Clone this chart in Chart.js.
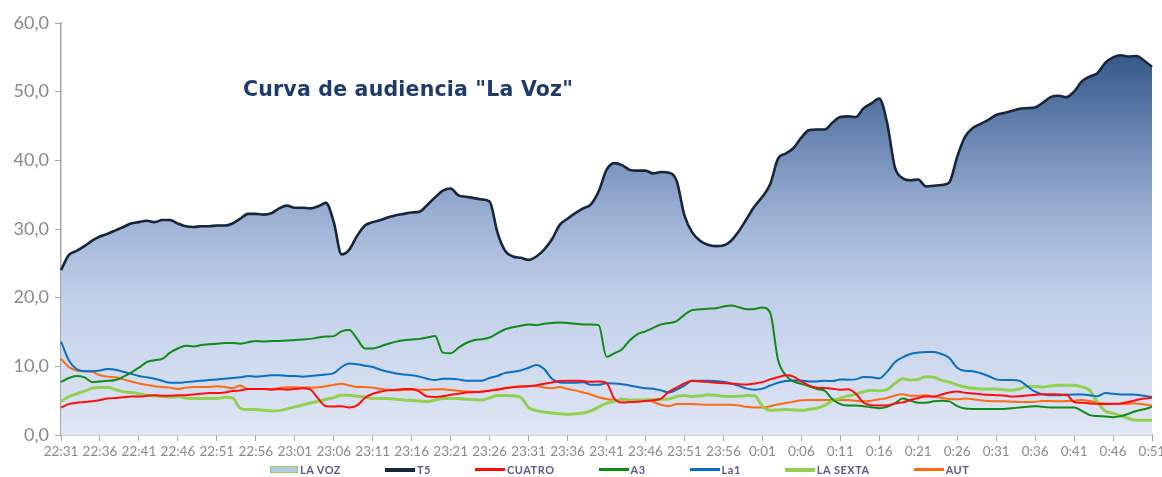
<!DOCTYPE html>
<html>
<head>
<meta charset="utf-8">
<script src="https://cdn.jsdelivr.net/npm/chart.js@4.4.0/dist/chart.umd.min.js"></script>
<style>
    html, body { margin: 0; padding: 0; background: #fff; }
    #wrap { position: relative; width: 1162px; height: 477px; }
    #title {
        position: absolute; left: 243px; top: 77px;
        font: bold 20.5px "DejaVu Sans", sans-serif; color: #1f3b6d; letter-spacing: 0.2px;
    }
    #legend {
        position: absolute; left: 270px; top: 463px;
        display: flex; gap: 44px; align-items: center;
        font: bold 11px Lato, sans-serif; color: #5c5a8e; letter-spacing: 0.5px;
    }
    #legend .item { display: flex; align-items: center; }
    #legend .sw { display: inline-block; width: 30px; height: 3px; margin-right: 2px; }
    #legend .box { width: 26px; height: 5px; border: 1.5px solid #92d050; background: #b8c7e3; }
</style>
</head>
<body>
<div id="wrap">
    <canvas id="audiencia-canvas" width="1162" height="477"></canvas>
    <div id="title">Curva de audiencia "La Voz"</div>
    <div id="legend"></div>
</div>
<script>
// minuto a minuto, 22:31 -> 0:51
var tickLabels = ['22:31', '22:36', '22:41', '22:46', '22:51', '22:56', '23:01', '23:06', '23:11', '23:16',
    '23:21', '23:26', '23:31', '23:36', '23:41', '23:46', '23:51', '23:56', '0:01', '0:06',
    '0:11', '0:16', '0:21', '0:26', '0:31', '0:36', '0:41', '0:46', '0:51'];

var categories = [];
for (var m = 0; m <= 140; m++) {
    var t = 22 * 60 + 31 + m;
    var h = Math.floor(t / 60) % 24, mm = t % 60;
    categories.push(h + ':' + (mm < 10 ? '0' : '') + mm);
}

var t5 = [
    24.0, 26.2, 26.8, 27.5, 28.3, 28.9, 29.3, 29.8, 30.3, 30.8,
    31.0, 31.2, 31.0, 31.3, 31.3, 30.8, 30.4, 30.3, 30.4, 30.4,
    30.5, 30.5, 30.8, 31.5, 32.2, 32.2, 32.1, 32.3, 33.0, 33.4,
    33.1, 33.1, 33.0, 33.3, 33.8, 31.0, 26.3, 27.0, 29.0, 30.5,
    31.0, 31.3, 31.7, 32.0, 32.2, 32.4, 32.5, 33.5, 34.6, 35.6,
    35.9, 34.9, 34.7, 34.5, 34.3, 34.0, 29.5, 26.8, 26.0, 25.8,
    25.5, 26.0, 27.0, 28.5, 30.6, 31.5, 32.3, 33.0, 33.6, 35.5,
    38.6, 39.6, 39.3, 38.6, 38.5, 38.5, 38.1, 38.3, 38.2, 37.0,
    32.0, 29.5, 28.3, 27.7, 27.5, 27.6, 28.3, 29.7, 31.5, 33.3,
    34.7, 36.5, 40.2, 41.0, 41.8, 43.3, 44.4, 44.5, 44.5, 45.5,
    46.3, 46.4, 46.3, 47.6, 48.3, 49.0, 45.5, 39.0, 37.4, 37.1,
    37.2, 36.2, 36.3, 36.4, 36.8, 40.5, 43.4, 44.7, 45.3, 45.9,
    46.6, 46.9, 47.2, 47.5, 47.6, 47.7, 48.4, 49.2, 49.4, 49.2,
    50.0, 51.5, 52.2, 52.7, 54.2, 55.0, 55.3, 55.1, 55.2, 54.5,
    53.6
];

var laVoz = t5;

var cuatro = [
    4.0, 4.5, 4.7, 4.8, 4.9, 5.1, 5.3, 5.4, 5.5, 5.6,
    5.6, 5.7, 5.8, 5.7, 5.7, 5.8, 5.8, 5.9, 6.0, 6.1,
    6.1, 6.2, 6.4, 6.5, 6.7, 6.7, 6.7, 6.6, 6.7, 6.6,
    6.7, 6.8, 6.6, 5.3, 4.2, 4.15, 4.2, 4.0, 4.3, 5.4,
    6.0, 6.3, 6.5, 6.6, 6.7, 6.7, 6.3, 5.6, 5.55, 5.65,
    5.85, 6.0, 6.2, 6.25, 6.3, 6.45, 6.6, 6.8, 6.95, 7.05,
    7.1, 7.25, 7.45, 7.65, 7.85, 7.9, 7.9, 7.85, 7.75, 7.8,
    7.6, 5.3, 4.75, 4.8, 4.85, 4.95, 5.05, 5.3, 6.3, 6.9,
    7.5, 7.9, 7.8, 7.7, 7.6, 7.55, 7.5, 7.4, 7.35, 7.5,
    7.7, 8.1, 8.4, 8.7, 8.5, 7.8, 7.2, 6.9, 6.85, 6.75,
    6.6, 6.65, 6.0, 4.7, 4.35, 4.3, 4.3, 4.6, 4.75, 5.1,
    5.4, 5.6, 5.6, 5.9, 6.2, 6.35, 6.15, 6.05, 5.95, 5.85,
    5.8, 5.75, 5.6, 5.65, 5.75, 5.85, 5.95, 5.95, 5.9, 5.85,
    4.8, 4.7, 4.6, 4.55, 4.5, 4.55, 4.6, 4.8, 5.1, 5.3,
    5.45
];

var a3 = [
    7.7, 8.3, 8.6, 8.4, 7.7, 7.8, 7.9, 8.0, 8.5, 9.1,
    9.8, 10.6, 10.9, 11.1, 12.0, 12.6, 13.0, 12.9, 13.1, 13.2,
    13.3, 13.4, 13.4, 13.3, 13.5, 13.7, 13.6, 13.7, 13.7, 13.75,
    13.85, 13.9, 14.0, 14.2, 14.35, 14.4, 15.1, 15.3, 14.0, 12.6,
    12.6, 12.9, 13.3, 13.6, 13.8, 13.9, 14.0, 14.2, 14.4, 12.0,
    11.9, 12.7, 13.4, 13.8, 13.95, 14.2, 14.8, 15.4, 15.7, 15.9,
    16.1, 16.0, 16.2, 16.3, 16.4, 16.3, 16.2, 16.1, 16.1, 16.0,
    11.4, 11.9, 12.5, 13.8, 14.7, 15.1, 15.6, 16.1, 16.3, 16.6,
    17.5, 18.2, 18.3, 18.4, 18.45, 18.7, 18.85, 18.6, 18.3, 18.35,
    18.55, 17.8, 11.0, 8.7, 7.8, 7.45, 7.1, 6.7, 6.45, 5.2,
    4.5, 4.3, 4.3, 4.2, 4.05, 3.9, 4.1, 4.6, 5.3, 5.0,
    4.7, 4.7, 4.9, 5.0, 4.9, 4.2, 3.85, 3.8, 3.8, 3.8,
    3.8, 3.8, 3.9, 4.0, 4.1, 4.2, 4.1, 4.0, 4.0, 4.0,
    4.0, 3.5, 2.9, 2.75, 2.7, 2.6, 2.75, 3.1, 3.5, 3.75,
    4.1
];

var la1 = [
    13.6, 10.9, 9.6, 9.3, 9.3, 9.4, 9.6, 9.5, 9.2, 8.9,
    8.6, 8.4, 8.2, 7.9, 7.6, 7.6, 7.7, 7.8, 7.9, 8.0,
    8.1, 8.2, 8.3, 8.4, 8.6, 8.5, 8.6, 8.7, 8.7, 8.6,
    8.6, 8.5, 8.6, 8.7, 8.8, 9.0, 9.9, 10.4, 10.3, 10.1,
    9.9, 9.5, 9.2, 8.95, 8.8, 8.7, 8.5, 8.2, 8.0, 8.2,
    8.2, 8.1, 7.9, 7.9, 7.9, 8.3, 8.6, 9.05, 9.2, 9.4,
    9.8, 10.2, 9.6, 8.2, 7.65, 7.6, 7.6, 7.7, 7.3, 7.3,
    7.55, 7.5, 7.4, 7.2, 7.0, 6.8, 6.75, 6.5, 6.2, 6.6,
    7.2, 7.9, 7.9, 7.9, 7.85, 7.75, 7.5, 7.15, 6.75, 6.6,
    6.75, 7.2, 7.6, 7.85, 7.95, 7.95, 7.8, 7.8, 7.9, 7.85,
    8.1, 8.05, 8.1, 8.45, 8.4, 8.25, 9.2, 10.6, 11.3, 11.8,
    12.0, 12.1, 12.1, 11.8, 11.2, 9.8, 9.35, 9.3, 9.0, 8.6,
    8.1, 8.0, 8.0, 7.9, 7.1, 6.3, 5.9, 5.8, 5.8, 5.85,
    5.9, 5.9, 5.8, 5.65, 6.1, 6.0, 5.9, 5.9, 5.85, 5.7,
    5.55
];

var laSexta = [
    4.9, 5.6, 6.0, 6.4, 6.8, 6.9, 6.9, 6.6, 6.3, 6.2,
    6.0, 5.8, 5.7, 5.6, 5.5, 5.6, 5.4, 5.3, 5.3, 5.3,
    5.3, 5.5, 5.4, 3.9, 3.7, 3.7, 3.6, 3.5, 3.55, 3.8,
    4.1, 4.35, 4.65, 4.9, 5.2, 5.45, 5.8, 5.8, 5.65, 5.55,
    5.3, 5.3, 5.3, 5.2, 5.1, 5.05, 4.95, 4.85, 5.1, 5.3,
    5.3, 5.3, 5.2, 5.15, 5.1, 5.4, 5.75, 5.75, 5.7, 5.5,
    4.0, 3.55, 3.35, 3.2, 3.1, 3.0, 3.1, 3.2, 3.5, 4.1,
    4.6, 4.9, 5.2, 5.1, 5.05, 5.1, 5.15, 5.2, 5.25, 5.6,
    5.75, 5.6, 5.7, 5.85, 5.8, 5.65, 5.6, 5.65, 5.75, 5.7,
    4.2, 3.6, 3.65, 3.7, 3.65, 3.6, 3.75, 3.9, 4.3, 5.0,
    5.4, 5.7, 5.95, 6.3, 6.5, 6.45, 6.6, 7.5, 8.2, 8.0,
    8.1, 8.5, 8.4, 7.95, 7.7, 7.3, 7.0, 6.8, 6.7, 6.7,
    6.7, 6.6, 6.5, 6.7, 7.1, 7.05, 7.0, 7.15, 7.25, 7.25,
    7.25, 7.0, 6.5, 4.8, 3.5, 3.15, 2.8, 2.4, 2.15, 2.15,
    2.15
];

var aut = [
    11.1, 9.9, 9.4, 9.3, 9.2, 8.7, 8.5, 8.4, 8.1, 7.8,
    7.5, 7.3, 7.1, 7.0, 6.9, 6.7, 6.9, 7.0, 7.0, 7.0,
    7.1, 7.0, 6.8, 7.2, 6.7, 6.7, 6.7, 6.7, 6.85, 6.95,
    6.95, 6.9, 6.9, 6.95, 7.1, 7.3, 7.45, 7.2, 7.0, 7.0,
    6.9, 6.7, 6.6, 6.5, 6.55, 6.6, 6.6, 6.6, 6.65, 6.65,
    6.55, 6.45, 6.35, 6.3, 6.35, 6.5, 6.65, 6.85, 7.0, 7.05,
    7.1, 7.15, 6.9, 6.8, 7.0, 6.7, 6.5, 6.2, 5.9, 5.5,
    5.25, 5.1, 5.1, 5.1, 5.15, 5.1, 4.8, 4.4, 4.2, 4.5,
    4.5, 4.5, 4.45, 4.4, 4.4, 4.4, 4.4, 4.3, 4.1, 4.0,
    4.0, 4.2, 4.45, 4.65, 4.85, 5.05, 5.1, 5.1, 5.1, 5.1,
    5.1, 5.1, 5.0, 4.9, 5.0, 5.2, 5.4, 5.75, 5.95, 5.7,
    5.7, 5.8, 5.55, 5.4, 5.25, 5.2, 5.3, 5.2, 5.05, 4.95,
    4.9, 4.9, 4.85, 4.8, 4.8, 4.85, 4.95, 4.95, 4.9, 4.95,
    5.0, 5.1, 4.95, 4.75, 4.6, 4.55, 4.5, 4.55, 4.6, 4.45,
    4.3
];

var axisColor = '#a6a6a6';
var tickColor = '#8a8a8a';

function laVozGradient(context) {
    var area = context.chart.chartArea;
    if (!area) return '#b8c7e3';
    var g = context.chart.ctx.createLinearGradient(0, area.top, 0, area.bottom);
    g.addColorStop(0, '#2a4b7c');
    g.addColorStop(0.083, '#365a8c');
    g.addColorStop(0.333, '#7a93bd');
    g.addColorStop(0.5, '#a3b6d8');
    g.addColorStop(0.667, '#c1cfe9');
    g.addColorStop(1, '#dfe6f4');
    return g;
}

function serie(label, data, color, width) {
    return {
        label: label, data: data, borderColor: color, backgroundColor: color,
        borderWidth: width, pointRadius: 0, fill: false,
        cubicInterpolationMode: 'monotone', order: 0
    };
}

var datasets = [
    {
        label: 'LA VOZ', data: laVoz, fill: 'origin',
        backgroundColor: laVozGradient, borderColor: '#92d050', borderWidth: 1.5,
        pointRadius: 0, cubicInterpolationMode: 'monotone', order: 1
    },
    serie('T5', t5, '#17263a', 2.6),
    serie('CUATRO', cuatro, '#ff0d0d', 2),
    serie('A3', a3, '#108a18', 2),
    serie('La1', la1, '#0a6fc4', 2),
    serie('LA SEXTA', laSexta, '#92d050', 3),
    serie('AUT', aut, '#ff6a10', 2)
];

var audienciaChart = new Chart(document.getElementById('audiencia-canvas').getContext('2d'), {
    type: 'line',
    data: { labels: categories, datasets: datasets },
    options: {
        responsive: false,
        animation: false,
        layout: { padding: { top: 23, right: 10, left: 0, bottom: 0 } },
        scales: {
            x: {
                grid: { drawOnChartArea: false, tickLength: 6, color: axisColor },
                border: { color: axisColor, width: 1.5 },
                ticks: {
                    autoSkip: false, maxRotation: 0, minRotation: 0, padding: 3,
                    color: tickColor, font: { family: 'Lato', size: 13.5 },
                    callback: function(value) {
                        var l = this.getLabelForValue(value);
                        return tickLabels.indexOf(l) >= 0 ? l : null;
                    }
                },
                afterFit: function(scale) {
                    scale.height = 42;
                    scale.paddingLeft = 0;
                    scale.paddingRight = 0;
                }
            },
            y: {
                min: 0, max: 60,
                grid: { drawOnChartArea: false, tickLength: 6, color: axisColor },
                border: { color: axisColor, width: 1.5 },
                ticks: {
                    stepSize: 10, padding: 6, color: tickColor,
                    font: { family: 'Lato', size: 18 },
                    callback: function(v) { return v.toFixed(1).replace('.', ','); }
                },
                afterFit: function(scale) {
                    scale.width = 61;
                    scale.paddingTop = 0;
                    scale.paddingBottom = 0;
                }
            }
        },
        plugins: {
            legend: { display: false },
            tooltip: { enabled: false }
        }
    }
});

// leyenda en HTML, desde los datasets
var legend = document.getElementById('legend');
audienciaChart.data.datasets.forEach(function(ds) {
    var item = document.createElement('span');
    item.className = 'item';
    var sw = document.createElement('span');
    if (ds.fill === 'origin') {
        sw.className = 'sw box';
    } else {
        sw.className = 'sw';
        sw.style.background = ds.borderColor;
        sw.style.height = ds.borderWidth > 2.5 ? '4px' : '3px';
    }
    item.appendChild(sw);
    item.appendChild(document.createTextNode(ds.label));
    legend.appendChild(item);
});
</script>
</body>
</html>
